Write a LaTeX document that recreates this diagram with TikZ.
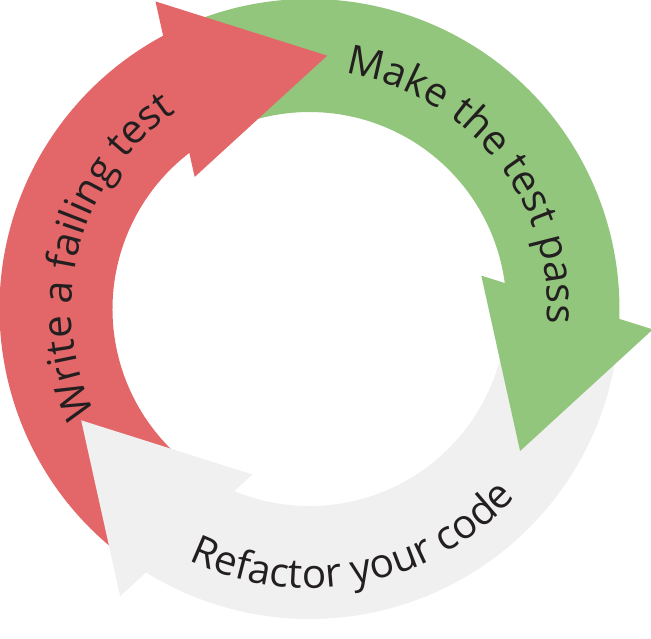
\documentclass[tikz,border=0pt]{standalone}
\usepackage{fontspec}
\setmainfont{Open Sans}
\usepackage{xcolor}
\usepackage{tikz}
\usetikzlibrary{decorations.text}

\definecolor{failred}{RGB}{227,103,104}
\definecolor{passgreen}{RGB}{147,198,125}
\definecolor{refgray}{RGB}{240,240,240}
\definecolor{ink}{RGB}{35,31,32}
\newcommand{\ringfont}{\fontsize{11.5}{13}\selectfont\color{ink}}

\begin{document}
\begin{tikzpicture}[x=0.01cm, y=0.01cm,
  ringtext/.style={decorate, decoration={text along path, text align=center, text={|\ringfont|#1}}}]
\useasboundingbox (-309.5,-329) rectangle (341.5,309);
% bodies
\fill[failred] (236:310) arc[start angle=236, end angle=116.5, radius=310] -- (126:197) arc[start angle=126, end angle=240, radius=197] -- cycle;
\fill[passgreen] (116:310) arc[start angle=116, end angle=-3.5, radius=310] -- (6:197) arc[start angle=6, end angle=120, radius=197] -- cycle;
\fill[refgray] (356:310) arc[start angle=356, end angle=236.5, radius=310] -- (246:197) arc[start angle=246, end angle=360, radius=197] -- cycle;
% heads
\fill[failred] (86:254) -- (116.6:344) -- (131:175) -- cycle;
\fill[passgreen] (-34:254) -- (-3.4:344) -- (11:175) -- cycle;
\fill[refgray] (206:254) -- (236.6:344) -- (251:175) -- cycle;
% labels
\path[ringtext={Write a failing test}] (225:238) arc[start angle=225, end angle=105, radius=238];
\path[ringtext={Make the test pass}] (99:238) arc[start angle=99, end angle=-21, radius=238];
\path[ringtext={Refactor your code}] (221:279) arc[start angle=221, end angle=341, radius=279];
\end{tikzpicture}
\end{document}
